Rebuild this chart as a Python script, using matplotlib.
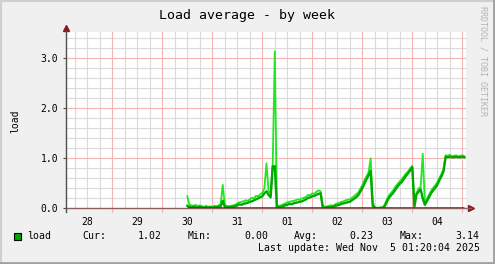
import numpy as np
import matplotlib
matplotlib.use('Agg')
import matplotlib.pyplot as plt
from matplotlib.patches import Rectangle

# hourly samples, starting Oct 30 12:00 (days counted from Oct 27 00:00)
t_start = 3.5
load_avg = [0.05, 0.03, 0.02, 0.03, 0.02, 0.02, 0.03, 0.02, 0.01, 0.02,
            0.01, 0.02, 0.01, 0.02, 0.02, 0.03, 0.04, 0.15, 0.03, 0.02,
            0.02, 0.03, 0.03, 0.04, 0.06, 0.08, 0.07, 0.09, 0.10, 0.11,
            0.13, 0.14, 0.16, 0.18, 0.20, 0.22, 0.24, 0.30, 0.34, 0.27,
            0.22, 0.84, 0.84, 0.03, 0.02, 0.03, 0.04, 0.06, 0.07, 0.09,
            0.08, 0.10, 0.11, 0.12, 0.13, 0.14, 0.16, 0.18, 0.21, 0.22,
            0.24, 0.25, 0.27, 0.29, 0.30, 0.02, 0.01, 0.02, 0.02, 0.03,
            0.03, 0.05, 0.06, 0.07, 0.09, 0.10, 0.11, 0.12, 0.13, 0.16,
            0.19, 0.22, 0.26, 0.33, 0.40, 0.49, 0.58, 0.66, 0.75, 0.05,
            0.01, 0.00, 0.00, 0.01, 0.01, 0.06, 0.15, 0.22, 0.27, 0.32,
            0.38, 0.44, 0.49, 0.53, 0.59, 0.65, 0.70, 0.76, 0.82, 0.03,
            0.28, 0.33, 0.38, 0.20, 0.07, 0.14, 0.22, 0.30, 0.36, 0.41,
            0.47, 0.56, 0.64, 0.74, 1.03, 1.02, 1.03, 1.02, 1.02, 1.03,
            1.02, 1.02, 1.03, 1.02]
load_max = [0.24, 0.07, 0.06, 0.05, 0.07, 0.04, 0.06, 0.04, 0.03, 0.05,
            0.03, 0.04, 0.03, 0.05, 0.04, 0.06, 0.08, 0.47, 0.06, 0.05,
            0.04, 0.05, 0.06, 0.07, 0.10, 0.12, 0.13, 0.14, 0.16, 0.15,
            0.18, 0.21, 0.20, 0.25, 0.24, 0.28, 0.31, 0.40, 0.90, 0.35,
            0.30, 0.88, 3.14, 0.06, 0.05, 0.06, 0.08, 0.10, 0.12, 0.13,
            0.14, 0.15, 0.16, 0.18, 0.17, 0.20, 0.21, 0.23, 0.27, 0.26,
            0.30, 0.29, 0.33, 0.36, 0.34, 0.05, 0.03, 0.04, 0.05, 0.06,
            0.05, 0.08, 0.10, 0.11, 0.13, 0.14, 0.16, 0.17, 0.18, 0.21,
            0.24, 0.28, 0.31, 0.39, 0.46, 0.56, 0.64, 0.72, 1.00, 0.12,
            0.02, 0.01, 0.01, 0.02, 0.02, 0.10, 0.20, 0.27, 0.32, 0.37,
            0.44, 0.49, 0.54, 0.59, 0.64, 0.70, 0.74, 0.80, 0.85, 0.08,
            0.30, 0.40, 0.42, 1.09, 0.12, 0.19, 0.27, 0.35, 0.41, 0.46,
            0.52, 0.61, 0.69, 0.79, 1.06, 1.05, 1.07, 1.04, 1.05, 1.06,
            1.04, 1.05, 1.06, 1.04]
day_labels = ['28', '29', '30', '31', '01', '02', '03', '04']
y_ticks = [0.0, 1.0, 2.0, 3.0]

t = t_start + np.arange(len(load_avg)) / 24.0

mono = 'DejaVu Sans Mono'
W, H = 495, 264
fig = plt.figure(figsize=(W / 100, H / 100), dpi=100, facecolor='#f0f0f0')

# frame border
fig.add_artist(plt.Line2D([0.5 / W, 0.5 / W], [0, 1], color='#cfcfcf', lw=1.5))
fig.add_artist(plt.Line2D([0, 1], [1 - 0.5 / H, 1 - 0.5 / H], color='#cfcfcf', lw=1.5))
fig.add_artist(plt.Line2D([1 - 1 / W, 1 - 1 / W], [0, 1], color='#a0a0a0', lw=2))
fig.add_artist(plt.Line2D([0, 1], [1 / H, 1 / H], color='#a0a0a0', lw=2))

x0, x1, ytop, ybot = 65.7, 465.7, 32.3, 208.3
ax = fig.add_axes([x0 / W, 1 - ybot / H, (x1 - x0) / W, (ybot - ytop) / H])
ax.set_facecolor('white')
ax.set_xlim(1.068, 9.068)
ax.set_ylim(0, 3.52)
for s in ax.spines.values():
    s.set_visible(False)

# grid
for gx in np.arange(1.25, 9.1, 0.25):
    if abs(gx - round(gx)) > 1e-6:
        ax.axvline(gx, color='#dadada', lw=0.8, zorder=0)
for gy in np.arange(0.2, 3.6, 0.2):
    if abs(gy - round(gy)) > 1e-6:
        ax.axhline(gy, color='#dadada', lw=0.8, zorder=0)
for gx in range(2, 10):
    ax.axvline(gx, color='#f5b4b4', lw=0.8, zorder=0.5)
for gy in [1, 2, 3]:
    ax.axhline(gy, color='#f5b4b4', lw=0.8, zorder=0.5)

# data
ax.plot(t, load_max, color='#1ee81e', lw=1.3, zorder=3)
ax.plot(t, load_avg, color='#00a800', lw=1.7, zorder=4)
ax.hlines(0, t[0], t[-1], color='#383838', lw=1.8, zorder=5)

# axes lines and arrows
ax.plot([0, 1.012], [0, 0], transform=ax.transAxes, color='#8a6060', lw=1, clip_on=False, zorder=4.5)
ax.plot([0, 0], [-0.02, 1.01], transform=ax.transAxes, color='#505050', lw=1, clip_on=False, zorder=6)
ax.plot([0], [1.025], marker='^', ms=5, color='#8b1a1a', transform=ax.transAxes, clip_on=False)
ax.plot([1.014], [0], marker='>', ms=5, color='#8b1a1a', transform=ax.transAxes, clip_on=False)
for gx in range(2, 10):
    ax.plot([gx, gx], [0, -0.08], color='#f5b4b4', lw=0.8, clip_on=False, zorder=1)

ax.set_xticks(np.arange(1.5, 9.0, 1.0))
ax.set_xticklabels(day_labels, fontfamily=mono, fontsize=7)
ax.tick_params(axis='x', length=0, pad=6)
ax.set_yticks(y_ticks)
ax.set_yticklabels(['%.1f' % v for v in y_ticks], fontfamily=mono, fontsize=7)
ax.tick_params(axis='y', length=2.5, width=0.8, color='#505050', pad=3)

fig.text(247 / W, 1 - 16 / H, 'Load average - by week', ha='center', va='center',
         fontfamily=mono, fontsize=9.5)
fig.text(15 / W, 1 - 121 / H, 'load', rotation=90, ha='center', va='center',
         fontfamily=mono, fontsize=7)
fig.text(483 / W, 1 - 61 / H, 'RRDTOOL / TOBI OETIKER', rotation=270, ha='center',
         va='center', fontfamily=mono, fontsize=6, color='#b4b4b4')

# legend
ly = 1 - 236 / H
fig.add_artist(Rectangle((14 / W, 1 - 240 / H), 7 / W, 7 / H, facecolor='#00a600',
                         edgecolor='black', lw=0.8))
lkw = dict(va='center', fontfamily=mono, fontsize=7.1)
fig.text(26.7 / W, ly, 'load', ha='left', **lkw)
fig.text(82.7 / W, ly, 'Cur:', ha='left', **lkw)
fig.text(161.7 / W, ly, '%.2f' % load_avg[-1], ha='right', **lkw)
fig.text(187.7 / W, ly, 'Min:', ha='left', **lkw)
fig.text(268 / W, ly, '%.2f' % min(load_avg), ha='right', **lkw)
fig.text(294 / W, ly, 'Avg:', ha='left', **lkw)
fig.text(373 / W, ly, '0.23', ha='right', **lkw)
fig.text(399.3 / W, ly, 'Max:', ha='left', **lkw)
fig.text(479 / W, ly, '%.2f' % max(load_max), ha='right', **lkw)
fig.text(480 / W, 1 - 248 / H, 'Last update: Wed Nov  5 01:20:04 2025', ha='right', **lkw)

fig.savefig('out.png', dpi=100, facecolor=fig.get_facecolor())
